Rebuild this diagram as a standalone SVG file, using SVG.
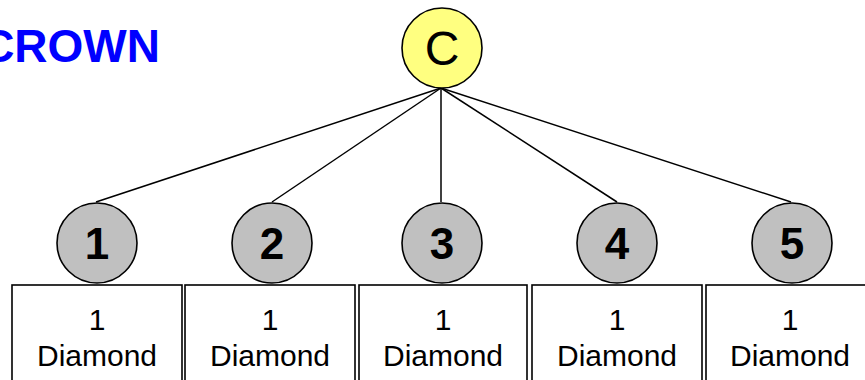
<svg xmlns="http://www.w3.org/2000/svg" width="865" height="380" viewBox="0 0 865 380">
<style>
.title{font-family:"Liberation Sans",Arial,sans-serif;font-weight:bold;font-size:46px;fill:#0000FF}
.root{fill:#FFFF80;stroke:#000;stroke-width:1.6}
.num{fill:#C0C0C0;stroke:#000;stroke-width:1.6}
.box{fill:#fff;stroke:#000;stroke-width:1.6}
.ct{font-family:"Liberation Sans",Arial,sans-serif;font-size:48px;fill:#000;text-anchor:middle}
.nt{font-family:"Liberation Sans",Arial,sans-serif;font-weight:bold;font-size:44px;fill:#000;text-anchor:middle}
.bt{font-family:"Liberation Sans",Arial,sans-serif;font-size:30px;fill:#000;text-anchor:middle}
.edge{stroke:#000;stroke-width:1.5;fill:none}
</style>
<rect width="865" height="380" fill="#fff"/>
<text class="title" x="160" y="62" text-anchor="end">CROWN</text>
<g id="connectors">
<line class="edge" x1="441" y1="88" x2="96" y2="202"/>
<line class="edge" x1="441" y1="88" x2="272" y2="202"/>
<line class="edge" x1="441" y1="88" x2="441" y2="202"/>
<line class="edge" x1="441" y1="88" x2="617" y2="202"/>
<line class="edge" x1="441" y1="88" x2="791" y2="202"/>
</g>
<g id="crown">
<circle class="root" cx="442" cy="48" r="40"/>
<text class="ct" x="442" y="65">C</text>
</g>
<g id="box1"><rect class="box" x="12" y="285" width="170" height="110"/><text class="bt" x="97" y="330">1</text><text class="bt" x="97" y="366">Diamond</text></g>
<g id="box2"><rect class="box" x="185" y="285" width="170" height="110"/><text class="bt" x="270" y="330">1</text><text class="bt" x="270" y="366">Diamond</text></g>
<g id="box3"><rect class="box" x="359" y="285" width="168" height="110"/><text class="bt" x="443" y="330">1</text><text class="bt" x="443" y="366">Diamond</text></g>
<g id="box4"><rect class="box" x="532" y="285" width="170" height="110"/><text class="bt" x="617" y="330">1</text><text class="bt" x="617" y="366">Diamond</text></g>
<g id="box5"><rect class="box" x="706" y="285" width="170" height="110"/><text class="bt" x="790" y="330">1</text><text class="bt" x="790" y="366">Diamond</text></g>
<g id="n1"><circle class="num" cx="97" cy="243" r="40"/><text class="nt" x="97" y="259">1</text></g>
<g id="n2"><circle class="num" cx="272" cy="243" r="40"/><text class="nt" x="272" y="259">2</text></g>
<g id="n3"><circle class="num" cx="442" cy="243" r="40"/><text class="nt" x="442" y="259">3</text></g>
<g id="n4"><circle class="num" cx="617" cy="243" r="40"/><text class="nt" x="617" y="259">4</text></g>
<g id="n5"><circle class="num" cx="792" cy="243" r="40"/><text class="nt" x="792" y="259">5</text></g>
</svg>
